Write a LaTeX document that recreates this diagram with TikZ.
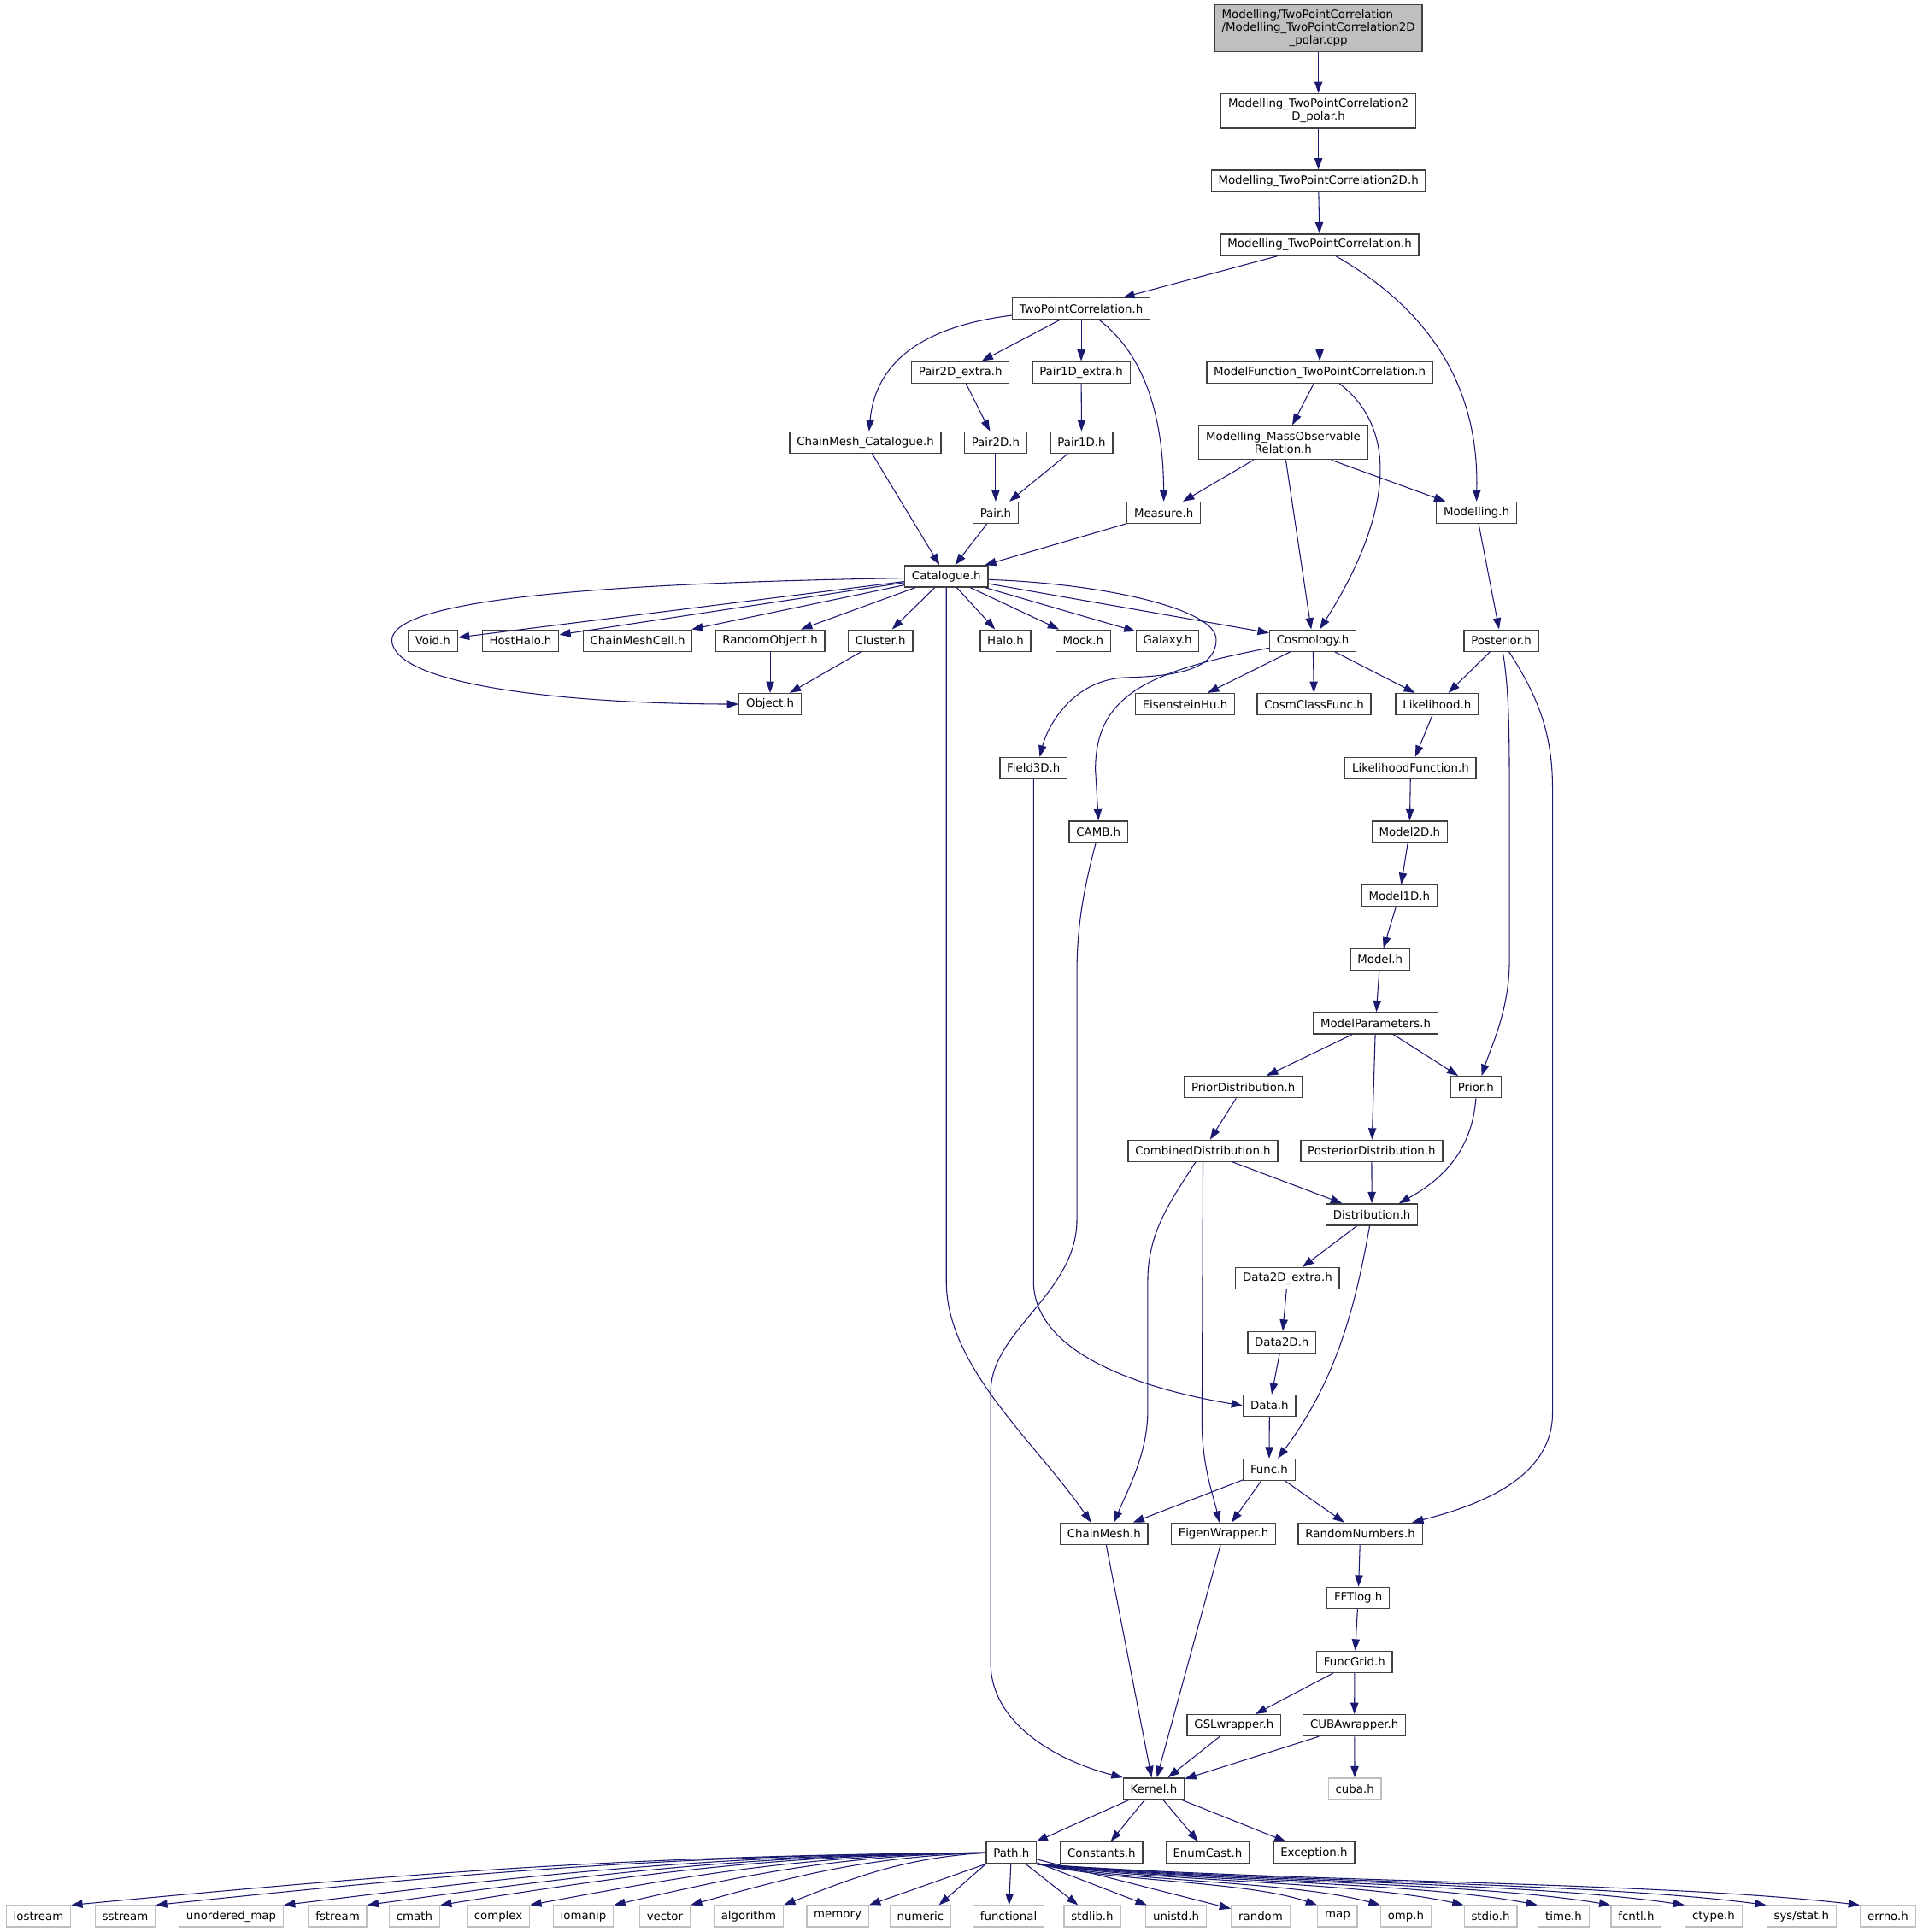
\documentclass[tikz,border=0pt]{standalone}
\usepackage{fontspec}
\setmainfont{DejaVu Sans}
\usetikzlibrary{arrows.meta,calc}
\definecolor{edgec}{HTML}{191970}
\definecolor{boxc}{HTML}{404040}
\definecolor{sysc}{HTML}{BFBFBF}
\definecolor{rootc}{HTML}{BFBFBF}
\begin{document}
\begin{tikzpicture}[x=1.0813pt,y=-1.0813pt,
  hdr/.style={draw=boxc, line width=1pt, fill=white, inner xsep=6.25pt, inner ysep=2pt,
    minimum height=18.75pt, font=\fontsize{10pt}{11pt}\selectfont, align=center},
  sys/.style={hdr, draw=sysc},
  rootbox/.style={hdr, fill=rootc, minimum height=41pt},
  e/.style={draw=edgec, line width=0.8pt, -{Triangle[length=10pt,width=7pt]}}]
\useasboundingbox (0,0) rectangle (1560,1568.3);
% ---------- nodes ----------
\node[rootbox] (root) at (1070,23) {\rlap{Modelling/TwoPointCorrelation}\phantom{/Modelling\_TwoPointCorrelation2D}\\/Modelling\_TwoPointCorrelation2D\\\_polar.cpp};
\node[hdr, minimum height=30.3pt] (m2dp) at (1070,90) {Modelling\_TwoPointCorrelation2\\D\_polar.h};
\node[hdr] (m2d) at (1070,146.8) {Modelling\_TwoPointCorrelation2D.h};
\node[hdr] (mtpc) at (1071,198.7) {Modelling\_TwoPointCorrelation.h};
\node[hdr] (tpc) at (877.5,250.5) {TwoPointCorrelation.h};
\node[hdr] (p2dx) at (779.4,302.2) {Pair2D\_extra.h};
\node[hdr] (p1dx) at (877.5,302.2) {Pair1D\_extra.h};
\node[hdr] (mftpc) at (1071,302.2) {ModelFunction\_TwoPointCorrelation.h};
\node[hdr] (cmcat) at (702.3,359.2) {ChainMesh\_Catalogue.h};
\node[hdr] (p2d) at (808,359.2) {Pair2D.h};
\node[hdr] (p1d) at (877.8,359.2) {Pair1D.h};
\node[hdr, minimum height=29.7pt] (mmor) at (1041.4,359.2) {Modelling\_MassObservable\\Relation.h};
\node[hdr] (pair) at (808,416.2) {Pair.h};
\node[hdr] (measure) at (944.5,416.2) {Measure.h};
\node[hdr] (modelling) at (1198.3,416.2) {Modelling.h};
\node[hdr] (catalogue) at (768,467.8) {Catalogue.h};
\node[hdr] (void) at (351.2,520) {Void.h};
\node[hdr] (hosthalo) at (422.4,520) {HostHalo.h};
\node[hdr] (chainmeshcell) at (517.5,520) {ChainMeshCell.h};
\node[hdr] (randomobject) at (625,520) {RandomObject.h};
\node[hdr] (cluster) at (714.6,520) {Cluster.h};
\node[hdr] (halo) at (816,520) {Halo.h};
\node[hdr] (mock) at (879,520) {Mock.h};
\node[hdr] (galaxy) at (947.5,520) {Galaxy.h};
\node[hdr] (cosmology) at (1065.5,520) {Cosmology.h};
\node[hdr] (posterior) at (1218.4,520) {Posterior.h};
\node[hdr] (object) at (625,571.6) {Object.h};
\node[hdr] (eisensteinhu) at (961.7,571.6) {EisensteinHu.h};
\node[hdr] (cosmclassfunc) at (1066.5,571.6) {CosmClassFunc.h};
\node[hdr] (likelihood) at (1166.2,571.6) {Likelihood.h};
\node[hdr] (field3d) at (838.8,623.5) {Field3D.h};
\node[hdr] (likelihoodfunction) at (1144.8,623.5) {LikelihoodFunction.h};
\node[hdr] (camb) at (891.5,675.2) {CAMB.h};
\node[hdr] (model2d) at (1144,675.2) {Model2D.h};
\node[hdr] (model1d) at (1135.7,727) {Model1D.h};
\node[hdr] (model) at (1120,778.8) {Model.h};
\node[hdr] (modelparameters) at (1116.4,830.6) {ModelParameters.h};
\node[hdr] (priordistribution) at (1009,882.4) {PriorDistribution.h};
\node[hdr] (prior) at (1197.8,882.4) {Prior.h};
\node[hdr] (combineddistribution) at (976.3,934.2) {CombinedDistribution.h};
\node[hdr] (posteriordistribution) at (1113.2,934.2) {PosteriorDistribution.h};
\node[hdr] (distribution) at (1113.4,985.9) {Distribution.h};
\node[hdr] (data2dextra) at (1044.9,1037.7) {Data2D\_extra.h};
\node[hdr] (data2d) at (1040.3,1089.5) {Data2D.h};
\node[hdr] (data) at (1030.3,1141) {Data.h};
\node[hdr] (func) at (1030,1193) {Func.h};
\node[hdr] (chainmesh) at (896,1245) {ChainMesh.h};
\node[hdr] (eigenwrapper) at (993,1245) {EigenWrapper.h};
\node[hdr] (randomnumbers) at (1104,1245) {RandomNumbers.h};
\node[hdr] (fftlog) at (1102.3,1297) {FFTlog.h};
\node[hdr] (funcgrid) at (1099.3,1349) {FuncGrid.h};
\node[hdr] (gslwrapper) at (1001.5,1400.5) {GSLwrapper.h};
\node[hdr] (cubawrapper) at (1099.2,1400.5) {CUBAwrapper.h};
\node[hdr] (kernel) at (936.4,1452) {Kernel.h};
\node[sys] (cuba) at (1099.5,1452) {cuba.h};
\node[hdr] (path) at (820.8,1504) {Path.h};
\node[hdr] (constants) at (894,1504) {Constants.h};
\node[hdr] (enumcast) at (980,1504) {EnumCast.h};
\node[hdr] (exception) at (1066.4,1504) {Exception.h};
% bottom row
\node[sys] (iostream) at (31.2,1555.5) {iostream};
\node[sys] (sstream) at (101.6,1555.5) {sstream};
\node[sys] (umap) at (187.6,1555.5) {unordered\_map};
\node[sys] (fstream) at (274,1555.5) {fstream};
\node[sys] (cmath) at (336.4,1555.5) {cmath};
\node[sys] (complex) at (404.4,1555.5) {complex};
\node[sys] (iomanip) at (473.4,1555.5) {iomanip};
\node[sys] (vector) at (539.6,1555.5) {vector};
\node[sys] (algorithm) at (607.6,1555.5) {algorithm};
\node[sys] (memory) at (679.8,1555.5) {memory};
\node[sys] (numeric) at (747,1555.5) {numeric};
\node[sys] (functional) at (818.5,1555.5) {functional};
\node[sys] (stdlib) at (886.5,1555.5) {stdlib.h};
\node[sys] (unistd) at (954.5,1555.5) {unistd.h};
\node[sys] (random) at (1023.1,1555.5) {random};
\node[sys] (map) at (1085.5,1555.5) {map};
\node[sys] (omp) at (1141,1555.5) {omp.h};
\node[sys] (stdio) at (1209.7,1555.5) {stdio.h};
\node[sys] (time) at (1269,1555.5) {time.h};
\node[sys] (fcntl) at (1327.9,1555.5) {fcntl.h};
\node[sys] (ctype) at (1390.7,1555.5) {ctype.h};
\node[sys] (sysstat) at (1462.1,1555.5) {sys/stat.h};
\node[sys] (errno) at (1532.2,1555.5) {errno.h};
% ---------- edges ----------
\draw[e] (root) -- (m2dp);
\draw[e] (m2dp) -- (m2d);
\draw[e] (m2d) -- (mtpc);
\draw[e] (mtpc) -- (tpc);
\draw[e] (mtpc) -- (mftpc);
\draw[e] ($(mtpc.south)+(13,0)$) .. controls (1175,260) and (1200,330) .. (modelling.north);
\draw[e] ($(tpc.west)+(0,5.5)$) .. controls (740,266) and (710,300) .. ($(cmcat.north)+(3,0)$);
\draw[e] (tpc) -- (p2dx);
\draw[e] (tpc) -- (p1dx);
\draw[e] ($(tpc.south)+(14.5,0)$) .. controls (925,285) and (944,330) .. (measure.north);
\draw[e] (p2dx) -- (p2d);
\draw[e] (p1dx) -- (p1d);
\draw[e] (p2d) -- (pair);
\draw[e] (p1d) -- (pair);
\draw[e] (cmcat) -- (catalogue);
\draw[e] (pair) -- (catalogue);
\draw[e] (measure) -- (catalogue);
\draw[e] (mftpc) -- (mmor);
\draw[e] ($(mftpc.south)+(16,0)$) .. controls (1150,360) and (1110,450) .. ($(cosmology.north)+(5.5,0)$);
\draw[e] (mmor) -- (measure);
\draw[e] (mmor) -- (cosmology);
\draw[e] (mmor) -- (modelling);
\draw[e] (modelling) -- (posterior);
% Catalogue fan-out
\draw[e] (catalogue) -- (void);
\draw[e] (catalogue) -- (hosthalo);
\draw[e] (catalogue) -- (chainmeshcell);
\draw[e] (catalogue) -- (randomobject);
\draw[e] (catalogue) -- (cluster);
\draw[e] (catalogue) -- (halo);
\draw[e] (catalogue) -- (mock);
\draw[e] (catalogue) -- (galaxy);
\draw[e] (catalogue) -- (cosmology);
\draw[e] ($(catalogue.west)+(0,1.5)$) .. controls (450,474) and (318,490) .. (318,520) .. controls (320,555) and (450,571) .. (object.west);
\draw[e] (catalogue.south) -- (768,1040) .. controls (768,1110) and (840,1170) .. ($(chainmesh.north)-(10.5,0)$);
\draw[e] ($(catalogue.east)+(0,2.7)$) .. controls (900,474) and (987,495) .. (987,519) .. controls (987,545) and (950,549) .. (913,550) .. controls (870,552) and (850,590) .. ($(field3d.north)+(5,0)$);
\draw[e] (randomobject) -- (object);
\draw[e] (cluster) -- (object);
% Cosmology
\draw[e] (cosmology) -- (eisensteinhu);
\draw[e] (cosmology) -- (cosmclassfunc);
\draw[e] (cosmology) -- (likelihood);
\draw[e] ($(cosmology.west)+(0,6)$) .. controls (930,545) and (889,565) .. (889,625) -- (camb.north);
% Posterior
\draw[e] (posterior) -- (likelihood);
\draw[e] ($(posterior.south)+(1.2,0)$) .. controls (1225,560) and (1225,600) .. (1225,650) -- (1225,780) .. controls (1225,820) and (1210,850) .. ($(prior.north)+(4.7,0)$);
\draw[e] ($(posterior.south)+(6.3,0)$) .. controls (1248,565) and (1260,595) .. (1260,640) -- (1260,1147) .. controls (1260,1200) and (1200,1222) .. ($(randomnumbers.north)+(42,0)$);
% Model chain
\draw[e] (likelihood) -- (likelihoodfunction);
\draw[e] (likelihoodfunction) -- (model2d);
\draw[e] (model2d) -- (model1d);
\draw[e] (model1d) -- (model);
\draw[e] (model) -- (modelparameters);
\draw[e] (modelparameters) -- (priordistribution);
\draw[e] (modelparameters) -- (posteriordistribution);
\draw[e] (modelparameters) -- (prior);
\draw[e] (priordistribution) -- (combineddistribution);
\draw[e] (combineddistribution) -- (distribution);
\draw[e] (posteriordistribution) -- (distribution);
\draw[e] (prior.south) .. controls (1195,930) and (1175,955) .. ($(distribution.north)+(22,0)$);
\draw[e] ($(combineddistribution.south)-(6,0)$) .. controls (950,975) and (931.5,1000) .. (931.5,1040) -- (931.5,1145) .. controls (931.5,1180) and (915,1210) .. ($(chainmesh.north)+(8,0)$);
\draw[e] (combineddistribution.south) -- (975.5,1155) .. controls (975.5,1190) and (985,1215) .. ($(eigenwrapper.north)-(3.4,0)$);
\draw[e] (distribution) -- (data2dextra);
\draw[e] ($(distribution.south)-(1.8,0)$) .. controls (1100,1060) and (1085,1120) .. ($(func.north)+(7,0)$);
\draw[e] (data2dextra) -- (data2d);
\draw[e] (data2d) -- (data);
\draw[e] (field3d.south) -- (838.8,1040) .. controls (838.8,1100) and (930,1128) .. (data.west);
\draw[e] (data) -- (func);
\draw[e] (func) -- (chainmesh);
\draw[e] (func) -- (eigenwrapper);
\draw[e] (func) -- (randomnumbers);
\draw[e] ($(camb.south)-(2.2,0)$) .. controls (880,720) and (874,750) .. (874,790) -- (874,990) .. controls (874,1050) and (804,1080) .. (804,1130) -- (804,1350) .. controls (804,1400) and (860,1430) .. (kernel.north west);
\draw[e] (chainmesh) -- (kernel);
\draw[e] (eigenwrapper) -- (kernel);
\draw[e] (randomnumbers) -- (fftlog);
\draw[e] (fftlog) -- (funcgrid);
\draw[e] (funcgrid) -- (gslwrapper);
\draw[e] (funcgrid) -- (cubawrapper);
\draw[e] (gslwrapper) -- (kernel);
\draw[e] (cubawrapper) -- (kernel);
\draw[e] (cubawrapper) -- (cuba);
\draw[e] (kernel) -- (path);
\draw[e] (kernel) -- (constants);
\draw[e] (kernel) -- (enumcast);
\draw[e] (kernel) -- (exception);
% Path fan-out, left
\draw[e] (path.west) .. controls (503,1506) and (317.5,1522) .. (iostream.north east);
\draw[e] (path.west) .. controls (530,1506) and (362,1522) .. (sstream.north east);
\draw[e] (path.west) .. controls (572,1506) and (430,1522) .. (umap.north east);
\draw[e] (path.west) .. controls (600,1506) and (475,1522) .. (fstream.north east);
\draw[e] (path.west) .. controls (623,1506) and (512,1522) .. (cmath.north east);
\draw[e] (path.west) .. controls (652,1506) and (560,1522) .. (complex.north east);
\draw[e] (path.west) .. controls (679,1506) and (604,1522) .. (iomanip.north east);
\draw[e] (path.west) .. controls (704,1507) and (644,1523) .. (vector.north east);
\draw[e] (path.west) .. controls (734,1508) and (693,1524) .. (algorithm.north east);
\draw[e] (path.south west) -- (memory.north east);
\draw[e] (path.south west) -- ($(numeric.north)+(15,0)$);
\draw[e] (path) -- (functional);
\draw[e] (path) -- (stdlib);
\draw[e] (path) -- (unistd);
\draw[e] (path) -- (random);
% Path fan-out, right
\draw[e] (path.south east) .. controls (910,1528) and (1012,1527) .. (map.north west);
\draw[e] (path.south east) .. controls (925,1528) and (1050,1527) .. (omp.north west);
\draw[e] (path.south east) .. controls (946,1528) and (1101,1527) .. (stdio.north west);
\draw[e] (path.south east) .. controls (964,1528) and (1146,1527) .. (time.north west);
\draw[e] (path.south east) .. controls (981.5,1528) and (1191,1527) .. (fcntl.north west);
\draw[e] (path.south east) .. controls (999.5,1528) and (1236,1527) .. (ctype.north west);
\draw[e] (path.south east) .. controls (1019,1528) and (1286,1527) .. (sysstat.north west);
\draw[e] (path.south east) .. controls (1042,1528) and (1342,1527) .. (errno.north west);
\end{tikzpicture}
\end{document}
